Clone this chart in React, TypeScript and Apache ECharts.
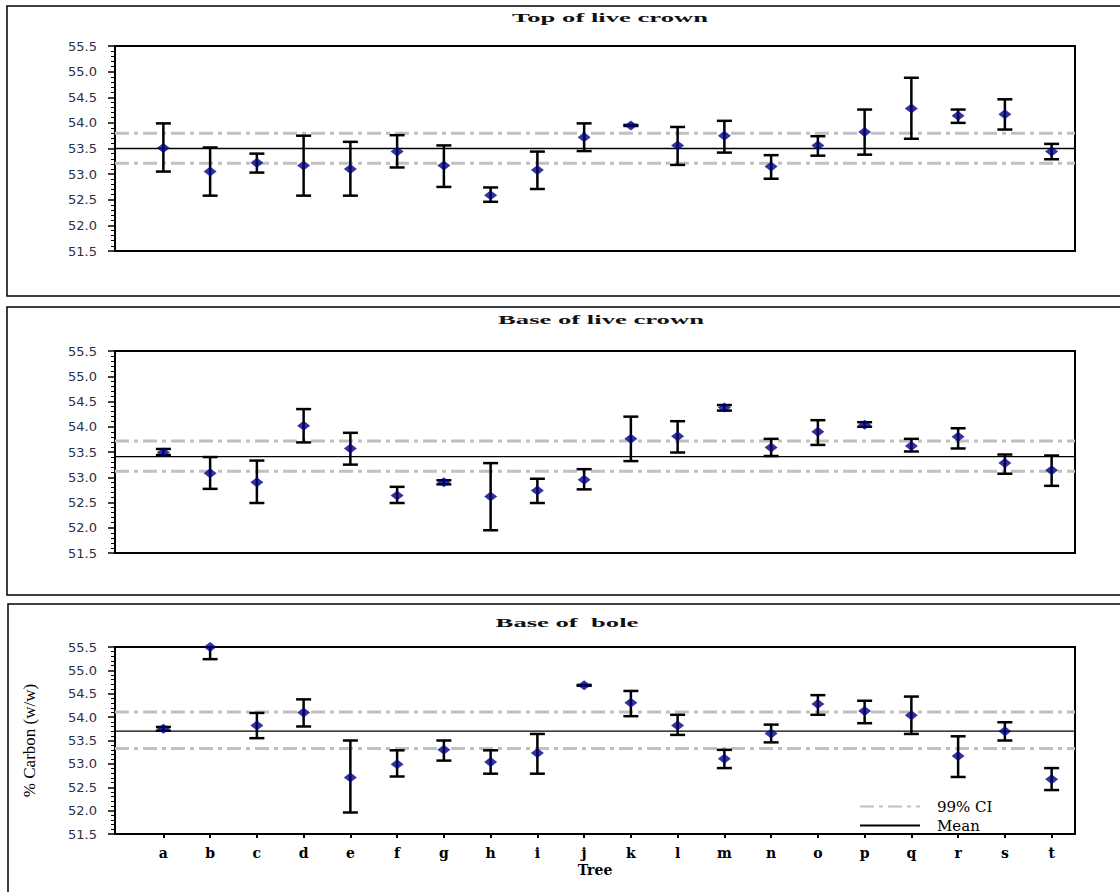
import React, { useEffect, useRef } from "react";
import * as echarts from "echarts";

// ---------- data ----------
const trees = ["a", "b", "c", "d", "e", "f", "g", "h", "i", "j", "k", "l", "m", "n", "o", "p", "q", "r", "s", "t"];
const panelTitles = ["Top of live crown", "Base of live crown", "Base of  bole"];

// Top of live crown
const topMean = [53.51, 53.05, 53.22, 53.17, 53.10, 53.44, 53.17, 52.59, 53.08, 53.72, 53.95, 53.56, 53.75, 53.15, 53.56, 53.82, 54.28, 54.14, 54.17, 53.44];
const topLow = [53.05, 52.58, 53.03, 52.58, 52.58, 53.13, 52.75, 52.46, 52.71, 53.45, 53.94, 53.18, 53.42, 52.91, 53.36, 53.38, 53.69, 54.00, 53.87, 53.29];
const topHigh = [53.99, 53.52, 53.40, 53.75, 53.63, 53.76, 53.56, 52.74, 53.44, 53.99, 53.96, 53.92, 54.04, 53.37, 53.74, 54.26, 54.88, 54.26, 54.46, 53.59];
const topStats = [53.50, 53.80, 53.21]; // mean, CI upper, CI lower

// Base of live crown
const baseCrownMean = [53.49, 53.08, 52.90, 54.02, 53.57, 52.64, 52.90, 52.62, 52.74, 52.95, 53.76, 53.81, 54.38, 53.59, 53.90, 54.04, 53.62, 53.80, 53.28, 53.14];
const baseCrownLow = [53.44, 52.77, 52.49, 53.69, 53.25, 52.49, 52.86, 51.95, 52.49, 52.76, 53.32, 53.49, 54.32, 53.42, 53.64, 54.00, 53.51, 53.57, 53.07, 52.83];
const baseCrownHigh = [53.56, 53.40, 53.33, 54.35, 53.88, 52.81, 52.94, 53.28, 52.97, 53.16, 54.20, 54.11, 54.43, 53.76, 54.13, 54.09, 53.76, 53.97, 53.45, 53.43];
const baseCrownStats = [53.41, 53.72, 53.12];

// Base of bole
const boleMean = [53.75, 55.50, 53.82, 54.10, 52.71, 52.99, 53.30, 53.04, 53.23, 54.68, 54.31, 53.82, 53.11, 53.65, 54.28, 54.13, 54.04, 53.17, 53.70, 52.67];
const boleLow = [53.71, 55.24, 53.55, 53.80, 51.96, 52.73, 53.07, 52.79, 52.79, 54.67, 54.02, 53.62, 52.91, 53.46, 54.05, 53.87, 53.64, 52.72, 53.50, 52.44];
const boleHigh = [53.79, 55.76, 54.09, 54.38, 53.50, 53.29, 53.50, 53.29, 53.64, 54.69, 54.56, 54.05, 53.30, 53.84, 54.47, 54.35, 54.44, 53.59, 53.89, 52.91];
const boleStats = [53.70, 54.11, 53.33];

const yMin = 51.5;
const yMax = 55.5;
const yInterval = 0.5;

const panelData = [
  { mean: topMean, low: topLow, high: topHigh, stats: topStats },
  { mean: baseCrownMean, low: baseCrownLow, high: baseCrownHigh, stats: baseCrownStats },
  { mean: boleMean, low: boleLow, high: boleHigh, stats: boleStats },
];

// ---------- layout ----------
const layouts = [
  { top: 46, height: 205, titleX: 610, titleY: 18, boxY: 6, boxH: 290, boxX: 7 },
  { top: 351, height: 202, titleX: 601, titleY: 320, boxY: 307, boxH: 288, boxX: 7 },
  { top: 647, height: 187, titleX: 567, titleY: 623, boxY: 604, boxH: 300, boxX: 8 },
];

export default function App() {
  const ref = useRef<HTMLDivElement>(null);

  useEffect(() => {
    const chart = echarts.init(ref.current!, null, { renderer: "svg" });

    const grid: any[] = [];
    const xAxis: any[] = [];
    const yAxis: any[] = [];
    const series: any[] = [];
    const graphic: any[] = [];

    panelData.forEach((p, i) => {
      const L = layouts[i];
      const fg = 2 * i;
      const dg = 2 * i + 1;
      const isLast = i === 2;

      grid.push({
        left: 115, width: 960, top: L.top, height: L.height,
        show: true, borderColor: "#000", borderWidth: 2, backgroundColor: "transparent",
      });
      grid.push({ left: 140, width: 935, top: L.top, height: L.height, show: false });

      xAxis.push({
        type: "value", gridIndex: fg, min: 0, max: 1, show: isLast,
        axisLine: { show: false }, axisTick: { show: false }, axisLabel: { show: false },
        splitLine: { show: false },
        name: isLast ? "Tree" : "", nameLocation: "middle", nameGap: 29,
        nameTextStyle: { fontFamily: "DejaVu Serif", fontWeight: "bold", fontSize: 14, color: "#000" },
      });
      xAxis.push({
        type: "category", gridIndex: dg, data: trees, boundaryGap: true, show: isLast,
        axisLine: { show: false },
        axisTick: { show: true, alignWithLabel: true, length: 4, lineStyle: { color: "#000", width: 2 } },
        axisLabel: { margin: 12, fontFamily: "DejaVu Serif", fontWeight: "bold", fontSize: 14, color: "#000" },
        splitLine: { show: false },
      });

      yAxis.push({
        type: "value", gridIndex: fg, min: yMin, max: yMax, interval: yInterval,
        axisLine: { show: true, lineStyle: { color: "#000", width: 2 } },
        axisTick: { show: true, length: 7, lineStyle: { color: "#000", width: 1.5 } },
        minorTick: { show: true, splitNumber: 5, length: 4, lineStyle: { color: "#000", width: 1 } },
        minorSplitLine: { show: false },
        splitLine: { show: false },
        axisLabel: {
          margin: 18, color: "#2a2e48", fontFamily: "DejaVu Sans", fontSize: 13,
          formatter: (v: number) => v.toFixed(1),
        },
        name: isLast ? "% Carbon (w/w)" : "", nameLocation: "middle", nameGap: 77,
        nameTextStyle: { fontFamily: "Liberation Serif", fontSize: 17, color: "#000" },
      });
      yAxis.push({ type: "value", gridIndex: dg, min: yMin, max: yMax, show: false });

      const [gm, ciU, ciL] = p.stats;
      const ciStyle = { color: "#c0c0c0", width: 3, type: [14, 5, 4, 5] };
      series.push({
        name: "99% CI", type: "line", xAxisIndex: fg, yAxisIndex: fg, symbol: "none", silent: true, z: 1,
        lineStyle: ciStyle, itemStyle: { color: "#c0c0c0" },
        data: [[0, ciU], [1, ciU]],
      });
      series.push({
        name: "99% CI", type: "line", xAxisIndex: fg, yAxisIndex: fg, symbol: "none", silent: true, z: 1,
        lineStyle: ciStyle, itemStyle: { color: "#c0c0c0" },
        data: [[0, ciL], [1, ciL]],
      });
      series.push({
        name: "Mean", type: "line", xAxisIndex: fg, yAxisIndex: fg, symbol: "none", silent: true, z: 2,
        lineStyle: { color: "#000", width: 1.3, type: "solid" }, itemStyle: { color: "#000" },
        data: [[0, gm], [1, gm]],
      });
      series.push({
        name: "err" + i, type: "custom", xAxisIndex: dg, yAxisIndex: dg, z: 3, silent: true, clip: true,
        encode: { x: 0, y: [1, 2] },
        data: trees.map((_, k) => [k, p.low[k], p.high[k]]),
        renderItem: (params: any, api: any) => {
          const x = api.value(0);
          const lo = api.value(1);
          const hi = api.value(2);
          const a = api.coord([x, lo]);
          const b = api.coord([x, hi]);
          const hw = 7.5;
          const style = { stroke: "#000", lineWidth: 2.5 };
          return {
            type: "group",
            children: [
              { type: "line", shape: { x1: a[0], y1: a[1], x2: b[0], y2: b[1] }, style },
              { type: "line", shape: { x1: b[0] - hw, y1: b[1], x2: b[0] + hw, y2: b[1] }, style },
              { type: "line", shape: { x1: a[0] - hw, y1: a[1], x2: a[0] + hw, y2: a[1] }, style },
            ],
          };
        },
      });
      series.push({
        name: "pts" + i, type: "scatter", xAxisIndex: dg, yAxisIndex: dg, z: 4, silent: true,
        symbol: "diamond", symbolSize: [13, 10], itemStyle: { color: "#000080" },
        data: p.mean,
      });

      graphic.push({
        type: "rect", silent: true, z: -10,
        shape: { x: L.boxX, y: L.boxY, width: 1140, height: L.boxH },
        style: { fill: "none", stroke: "#000", lineWidth: 1.5 },
      });
      graphic.push({
        type: "text", silent: true, x: L.titleX, y: L.titleY, scaleX: 2.05,
        style: {
          text: panelTitles[i], font: 'bold 13px "Liberation Serif"', fill: "#111",
          textAlign: "center", textVerticalAlign: "middle", align: "center", verticalAlign: "middle",
        },
      });
    });

    chart.setOption({
      animation: false,
      backgroundColor: "#fff",
      grid, xAxis, yAxis, series, graphic,
      legend: {
        data: ["99% CI", "Mean"],
        orient: "vertical", left: 854, top: 794, itemWidth: 60, itemHeight: 10, itemGap: 4,
        selectedMode: false,
        itemStyle: { opacity: 0 },
        textStyle: { fontFamily: "DejaVu Serif", fontSize: 15, color: "#000", padding: [0, 0, 0, 12] },
      },
    });
    return () => chart.dispose();
  }, []);

  return (
    <div
      ref={ref}
      style={{ position: "absolute", left: 0, top: 0, width: 1120, height: 892, background: "#fff" }}
    />
  );
}
